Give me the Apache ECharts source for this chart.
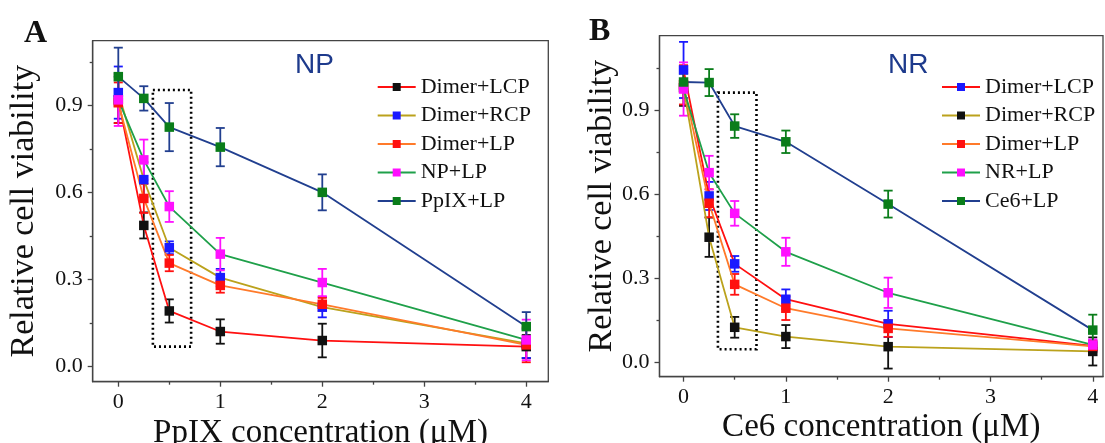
<!DOCTYPE html>
<html>
<head>
<meta charset="utf-8">
<script src="https://cdn.jsdelivr.net/npm/echarts@6/dist/echarts.min.js"></script>
<style>html,body{margin:0;padding:0;background:#fff;}#c{width:1105px;height:443px;}</style>
</head>
<body>
<div id="c"></div>
<script>
// ---------- data ----------
const concentrations = [0, 0.25, 0.5, 1, 2, 4];
const xTickLabels = [0, 1, 2, 3, 4];
const xMinorTicks = [0.5, 1.5, 2.5, 3.5];
const yTickLabels = [0, 0.3, 0.6, 0.9];
const yMinorTicks = [0.15, 0.45, 0.75, 1.05];

// Panel A (PpIX / NP)
const namesA = ['Dimer+LCP', 'Dimer+RCP', 'Dimer+LP', 'NP+LP', 'PpIX+LP'];
const a_dimerLCP = [0.92, 0.487, 0.192, 0.121, 0.09, 0.069];
const a_dimerLCP_err = [0.08, 0.045, 0.04, 0.042, 0.058, 0.04];
const a_dimerRCP = [0.945, 0.645, 0.41, 0.307, 0.205, 0.08];
const a_dimerRCP_err = [0.09, 0.06, 0.022, 0.03, 0.035, 0.05];
const a_dimerLP = [0.91, 0.58, 0.357, 0.28, 0.215, 0.075];
const a_dimerLP_err = [0.07, 0.05, 0.028, 0.025, 0.022, 0.06];
const a_npLP = [0.92, 0.713, 0.552, 0.388, 0.29, 0.092];
const a_npLP_err = [0.09, 0.07, 0.053, 0.056, 0.047, 0.07];
const a_ppixLP = [1.0, 0.925, 0.826, 0.757, 0.601, 0.138];
const a_ppixLP_err = [0.1, 0.042, 0.083, 0.066, 0.062, 0.05];

// Panel B (Ce6 / NR)
const namesB = ['Dimer+LCP', 'Dimer+RCP', 'Dimer+LP', 'NR+LP', 'Ce6+LP'];
const b_dimerLCP = [1.043, 0.594, 0.352, 0.226, 0.138, 0.06];
const b_dimerLCP_err = [0.1, 0.05, 0.028, 0.035, 0.047, 0.02];
const b_dimerRCP = [0.98, 0.447, 0.126, 0.093, 0.057, 0.04];
const b_dimerRCP_err = [0.065, 0.07, 0.037, 0.041, 0.078, 0.05];
const b_dimerLP = [0.99, 0.568, 0.279, 0.194, 0.122, 0.058];
const b_dimerLP_err = [0.07, 0.05, 0.037, 0.042, 0.03, 0.02];
const b_nrLP = [0.975, 0.677, 0.532, 0.395, 0.249, 0.063];
const b_nrLP_err = [0.095, 0.06, 0.044, 0.05, 0.054, 0.02];
const b_ce6LP = [1.0, 0.998, 0.843, 0.787, 0.565, 0.116];
const b_ce6LP_err = [0.03, 0.048, 0.042, 0.04, 0.048, 0.055];

// highlighted dotted region [x0, x1, y0, y1] in data units
const boxA = [0.339, 0.714, 0.069, 0.954];
const boxB = [0.336, 0.713, 0.048, 0.962];

// ---------- styles ----------
const RED = '#ff1010', OLIVE = '#bba21c', ORANGE = '#ff7a2a', GREEN_L = '#1fa04a', NAVY = '#213f8f';
const BLACK = '#111111', BLUE = '#1a1aff', MAG = '#ff10ff', GREEN_M = '#0a7d1a';
const SERIF = 'Liberation Serif, Times New Roman, serif';

const seriesA = [
  {v: a_dimerLCP, e: a_dimerLCP_err, line: RED, mk: BLACK, eb: BLACK},
  {v: a_dimerRCP, e: a_dimerRCP_err, line: OLIVE, mk: BLUE, eb: BLUE},
  {v: a_dimerLP, e: a_dimerLP_err, line: ORANGE, mk: RED, eb: RED},
  {v: a_npLP, e: a_npLP_err, line: GREEN_L, mk: MAG, eb: MAG},
  {v: a_ppixLP, e: a_ppixLP_err, line: NAVY, mk: GREEN_M, eb: NAVY}
];
const seriesB = [
  {v: b_dimerLCP, e: b_dimerLCP_err, line: RED, mk: BLUE, eb: BLUE},
  {v: b_dimerRCP, e: b_dimerRCP_err, line: OLIVE, mk: BLACK, eb: BLACK},
  {v: b_dimerLP, e: b_dimerLP_err, line: ORANGE, mk: RED, eb: RED},
  {v: b_nrLP, e: b_nrLP_err, line: GREEN_L, mk: MAG, eb: MAG},
  {v: b_ce6LP, e: b_ce6LP_err, line: NAVY, mk: GREEN_M, eb: GREEN_M}
];

function errRender(color) {
  return function (params, api) {
    const x = api.value(0), y = api.value(1), e = api.value(2);
    const t = api.coord([x, y + e]);
    const b = api.coord([x, y - e]);
    const hw = 4.5;
    const st = {stroke: color, lineWidth: 1.8};
    return {
      type: 'group',
      children: [
        {type: 'line', shape: {x1: t[0], y1: t[1], x2: b[0], y2: b[1]}, style: st},
        {type: 'line', shape: {x1: t[0] - hw, y1: t[1], x2: t[0] + hw, y2: t[1]}, style: st},
        {type: 'line', shape: {x1: b[0] - hw, y1: b[1], x2: b[0] + hw, y2: b[1]}, style: st}
      ]
    };
  };
}

function buildSeries(defs, names, prefix, xi, yi, box) {
  const out = [];
  defs.forEach((d, i) => {
    out.push({
      type: 'custom', name: prefix + '|err' + i, xAxisIndex: xi, yAxisIndex: yi, z: 2,
      renderItem: errRender(d.eb), silent: true,
      data: concentrations.map((c, k) => [c, d.v[k], d.e[k]]),
      encode: {x: 0, y: 1}
    });
  });
  defs.forEach((d, i) => {
    const s = {
      type: 'line', name: prefix + '|' + names[i], xAxisIndex: xi, yAxisIndex: yi, z: 3,
      data: concentrations.map((c, k) => [c, d.v[k]]),
      symbol: 'rect', symbolSize: 9.5, showSymbol: true,
      lineStyle: {color: d.line, width: 1.8},
      itemStyle: {color: d.mk},
      emphasis: {disabled: true}, animation: false
    };
    if (i === 0) {
      s.markArea = {
        silent: true,
        itemStyle: {color: 'rgba(0,0,0,0)', borderColor: '#000', borderWidth: 2.6, borderType: [2, 3]},
        data: [[{coord: [box[0], box[3]]}, {coord: [box[1], box[2]]}]]
      };
    }
    out.push(s);
  });
  return out;
}

const TICK = {color: '#444', width: 1.3};
function xAxes(gi, min, max, name, gap) {
  return [
    {
      type: 'value', gridIndex: gi, min: min, max: max, position: 'bottom',
      name: name, nameLocation: 'middle', nameGap: gap, nameMoveOverlap: false,
      nameTextStyle: {fontFamily: SERIF, fontSize: 33, color: '#111'},
      axisLine: {show: true, onZero: false, lineStyle: TICK},
      axisTick: {show: true, length: 5, lineStyle: TICK, customValues: xTickLabels},
      axisLabel: {fontFamily: SERIF, fontSize: 22, color: '#111', margin: 10, customValues: xTickLabels},
      splitLine: {show: false}
    },
    {
      type: 'value', gridIndex: gi, min: min, max: max, position: 'bottom',
      axisLine: {show: false, onZero: false},
      axisTick: {show: true, length: 3, lineStyle: TICK, customValues: xMinorTicks},
      axisLabel: {show: false}, splitLine: {show: false}
    }
  ];
}
function yAxes(gi, min, max, gap) {
  return [
    {
      type: 'value', gridIndex: gi, min: min, max: max, position: 'left',
      name: 'Relative cell viability', nameLocation: 'middle', nameGap: gap, nameRotate: 90, nameMoveOverlap: false,
      nameTextStyle: {fontFamily: SERIF, fontSize: 34, color: '#111'},
      axisLine: {show: true, onZero: false, lineStyle: TICK},
      axisTick: {show: true, length: 5, lineStyle: TICK, customValues: yTickLabels},
      axisLabel: {fontFamily: SERIF, fontSize: 22, color: '#111', margin: 10, customValues: yTickLabels,
        formatter: v => v.toFixed(1)},
      splitLine: {show: false}
    },
    {
      type: 'value', gridIndex: gi, min: min, max: max, position: 'left',
      axisLine: {show: false, onZero: false},
      axisTick: {show: true, length: 3, lineStyle: TICK, customValues: yMinorTicks},
      axisLabel: {show: false}, splitLine: {show: false}
    }
  ];
}

const chart = echarts.init(document.getElementById('c'), null, {renderer: 'canvas'});
const option = {
  animation: false,
  backgroundColor: '#fff',
  grid: [
    {left: 92.7, top: 40.7, width: 455.6, height: 341, show: true, borderColor: '#444', borderWidth: 1.3,
      backgroundColor: 'transparent', outerBoundsMode: 'none'},
    {left: 659.5, top: 35.7, width: 443.5, height: 341, show: true, borderColor: '#444', borderWidth: 1.3,
      backgroundColor: 'transparent', outerBoundsMode: 'none'}
  ],
  xAxis: [...xAxes(0, -0.251, 4.216, 'PpIX concentration (μM)', 35), ...xAxes(1, -0.235, 4.10, 'Ce6 concentration (μM)', 34)],
  yAxis: [...yAxes(0, -0.052, 1.124, 52), ...yAxes(1, -0.05, 1.165, 40)],
  legend: [
    {
      orient: 'vertical', left: 371.7, top: 71, itemWidth: 38, itemHeight: 10, itemGap: 6.5,
      data: namesA.map(n => 'A|' + n), formatter: n => n.split('|')[1],
      textStyle: {fontFamily: SERIF, fontSize: 22, color: '#111', lineHeight: 21},
      selectedMode: false
    },
    {
      orient: 'vertical', left: 936, top: 71, itemWidth: 38, itemHeight: 10, itemGap: 6.5,
      data: namesB.map(n => 'B|' + n), formatter: n => n.split('|')[1],
      textStyle: {fontFamily: SERIF, fontSize: 22, color: '#111', lineHeight: 21},
      selectedMode: false
    }
  ],
  graphic: [
    {type: 'text', left: 24, top: 18, style: {text: 'A', font: 'bold 32px ' + SERIF, fill: '#111'}},
    {type: 'text', left: 589, top: 16, style: {text: 'B', font: 'bold 32px ' + SERIF, fill: '#111'}},
    {type: 'text', left: 295, top: 51, style: {text: 'NP', font: '28px Liberation Sans, Arial, sans-serif', fill: '#1d3a8c'}},
    {type: 'text', left: 888, top: 51, style: {text: 'NR', font: '28px Liberation Sans, Arial, sans-serif', fill: '#1d3a8c'}}
  ],
  series: [
    ...buildSeries(seriesA, namesA, 'A', 0, 0, boxA),
    ...buildSeries(seriesB, namesB, 'B', 2, 2, boxB)
  ]
};
chart.setOption(option);
</script>
</body>
</html>
